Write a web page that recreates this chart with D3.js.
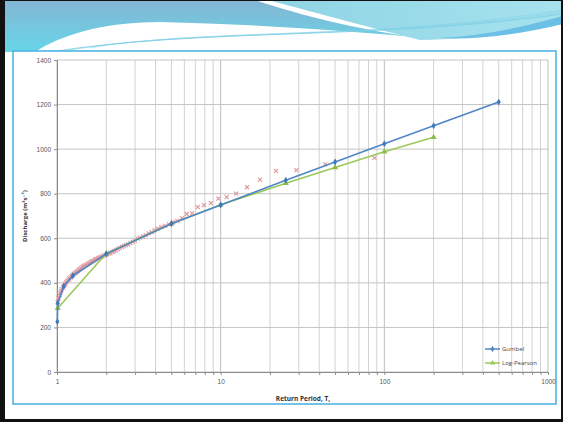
<!DOCTYPE html>
<html lang="en">
<head>
<meta charset="UTF-8">
<title>Return period chart</title>
<style>
  body { margin: 0; background: #fff; }
  svg { display: block; font-family: "Open Sans", "DejaVu Sans", sans-serif; }
</style>
</head>
<body>
<svg id="slide" width="563" height="422"></svg>
<script src="https://d3js.org/d3.v7.min.js"></script>
<script>
// Gumbel fit
const gumbelT = [1.005, 1.01, 1.1, 1.25, 2, 5, 10, 25, 50, 100, 200, 500];
const gumbelQ = [226, 308, 385, 432, 530, 665, 749, 860, 942, 1024, 1105, 1211];

// Log-Pearson fit
const lpT = [1.01, 2, 5, 10, 25, 50, 100, 200];
const lpQ = [286, 532, 665, 750, 847, 918, 988, 1053];

// observed annual maxima (plotting positions)
const obsT = [87, 43.5, 29, 21.75, 17.4, 14.5, 12.43, 10.88, 9.67, 8.7,
  7.91, 7.25, 6.69, 6.21, 5.8, 5.44, 5.12, 4.83, 4.58, 4.35,
  4.14, 3.95, 3.78, 3.63, 3.48, 3.35, 3.22, 3.11, 3.0, 2.9,
  2.81, 2.72, 2.64, 2.56, 2.49, 2.42, 2.35, 2.29, 2.23, 2.18,
  2.12, 2.07, 2.02, 1.98, 1.93, 1.89, 1.85, 1.81, 1.78, 1.74,
  1.71, 1.67, 1.64, 1.61, 1.58, 1.55, 1.53, 1.5, 1.47, 1.45,
  1.43, 1.4, 1.38, 1.36, 1.34, 1.32, 1.3, 1.28, 1.26, 1.24,
  1.23, 1.21, 1.19, 1.18, 1.16, 1.14, 1.13, 1.12, 1.1, 1.09,
  1.07, 1.06, 1.05, 1.04, 1.02, 1.01];
const obsQ = [961, 932, 906, 902, 863, 829, 800, 785, 778, 758,
  749, 740, 712, 709, 690, 678, 672, 664, 656, 650,
  643, 636, 628, 622, 614, 608, 603, 598, 590, 584,
  578, 573, 569, 565, 561, 556, 551, 546, 542, 538,
  534, 531, 528, 525, 522, 519, 516, 513, 510, 507,
  504, 500, 497, 494, 490, 486, 483, 480, 477, 474,
  470, 466, 462, 458, 454, 450, 446, 442, 438, 434,
  430, 425, 420, 415, 410, 404, 398, 392, 386, 379,
  372, 364, 355, 345, 332, 314];

const xTickLabels = [1, 10, 100, 1000];
const yTicks = [0, 200, 400, 600, 800, 1000, 1200, 1400];

const svg = d3.select("#slide");

// slide frame and header
const defs = svg.append("defs");
const g1 = defs.append("linearGradient").attr("id", "hdrL").attr("x1", 0).attr("y1", 0).attr("x2", 0).attr("y2", 1);
g1.append("stop").attr("offset", "0%").attr("stop-color", "#84b6d4");
g1.append("stop").attr("offset", "100%").attr("stop-color", "#66d6e8");
const g2 = defs.append("linearGradient").attr("id", "hdrR").attr("x1", 0).attr("y1", 0).attr("x2", 1).attr("y2", 0);
g2.append("stop").attr("offset", "0%").attr("stop-color", "#8fd4e4");
g2.append("stop").attr("offset", "100%").attr("stop-color", "#a6e2ee");

svg.append("rect").attr("width", 563).attr("height", 422).attr("fill", "#fff");
svg.append("path")
  .attr("d", "M5,1 H258 C300,15 360,30 414,37 C340,30 250,24 160,22 C100,22 60,36 35,52 H5 Z")
  .attr("fill", "url(#hdrL)");
svg.append("path")
  .attr("d", "M272,1 H563 V22 C520,30 470,40 420,40 C380,30 320,14 272,1 Z")
  .attr("fill", "url(#hdrR)");
svg.append("path")
  .attr("d", "M440,38 C480,36 520,28 563,16 V24 C520,34 480,40 440,38 Z")
  .attr("fill", "#6cbfe6");
[[50, 52, 0.9], [70, 50, 0.6], [90, 48, 0.5]].forEach(d => {
  svg.append("path")
    .attr("d", `M${d[0]},${d[1]} C200,28 380,40 563,${d[1] - 38}`)
    .attr("fill", "none").attr("stroke", "#7fcfe6").attr("stroke-width", d[2]);
});
svg.append("rect").attr("x", 0).attr("y", 0).attr("width", 5).attr("height", 422).attr("fill", "#111");
svg.append("rect").attr("x", 0).attr("y", 0).attr("width", 563).attr("height", 1).attr("fill", "#111");
svg.append("rect").attr("x", 0).attr("y", 419).attr("width", 563).attr("height", 3).attr("fill", "#111");
svg.append("rect").attr("x", 561).attr("y", 0).attr("width", 2).attr("height", 422).attr("fill", "#111");

// chart box
svg.append("rect").attr("x", 13).attr("y", 51).attr("width", 543).attr("height", 353)
  .attr("fill", "#fff").attr("stroke", "#45aee0").attr("stroke-width", 1.5);

const x = d3.scaleLog().domain([1, 1000]).range([57, 548]);
const y = d3.scaleLinear().domain([0, 1400]).range([372, 60]);

const grid = svg.append("g");
const vTicks = x.ticks();
grid.selectAll("line.v").data(vTicks).enter().append("line")
  .attr("x1", d => x(d)).attr("x2", d => x(d))
  .attr("y1", y(1400)).attr("y2", y(0))
  .attr("stroke", d => xTickLabels.includes(d) ? "#bdbdbd" : "#d2d2d2")
  .attr("stroke-width", 1);
grid.selectAll("line.h").data(yTicks).enter().append("line")
  .attr("x1", x(1)).attr("x2", x(1000))
  .attr("y1", d => y(d)).attr("y2", d => y(d))
  .attr("stroke", "#c4c4c4").attr("stroke-width", 1);

// axes
const xAxis = svg.append("g").attr("transform", `translate(0,${y(0)})`)
  .call(d3.axisBottom(x).tickValues(vTicks).tickSize(3)
    .tickFormat(d => xTickLabels.includes(d) ? d : ""));
const yAxis = svg.append("g").attr("transform", `translate(${x(1)},0)`)
  .call(d3.axisLeft(y).tickValues(yTicks).tickSize(3).tickFormat(d3.format("d")));
[xAxis, yAxis].forEach(a => {
  a.select(".domain").attr("stroke", "#8c8c8c");
  a.selectAll(".tick line").attr("stroke", "#8c8c8c");
  a.selectAll("text").attr("fill", "#555").style("font-size", "6.5px");
});
xAxis.selectAll("text").attr("dy", "0.9em");

svg.append("text").attr("x", 303).attr("y", 401).attr("text-anchor", "middle")
  .attr("font-size", 6.5).attr("font-weight", "bold").attr("fill", "#333")
  .text("Return Period, T,");
svg.append("text").attr("transform", "translate(27,216) rotate(-90)").attr("text-anchor", "middle")
  .attr("font-size", 6).attr("font-weight", "bold").attr("fill", "#333")
  .text("Discharge (m³s⁻¹)");

// observed points
const obs = obsT.map((t, i) => [t, obsQ[i]]);
const cross = svg.append("g").attr("stroke", "#e0959a").attr("stroke-width", 1.1);
obs.forEach(d => {
  const cx = x(d[0]), cy = y(d[1]);
  cross.append("path").attr("d", `M${cx - 2},${cy - 2} L${cx + 2},${cy + 2} M${cx - 2},${cy + 2} L${cx + 2},${cy - 2}`);
});

const line = d3.line().x(d => x(d[0])).y(d => y(d[1]));

// Log-Pearson
const lp = lpT.map((t, i) => [t, lpQ[i]]);
svg.append("path").datum(lp).attr("d", line).attr("fill", "none")
  .attr("stroke", "#9bc95a").attr("stroke-width", 1.6);
svg.append("g").selectAll("path").data(lp).enter().append("path")
  .attr("d", d3.symbol().type(d3.symbolTriangle).size(16))
  .attr("transform", d => `translate(${x(d[0])},${y(d[1])})`)
  .attr("fill", "#8dbb4c");

// Gumbel
const gu = gumbelT.map((t, i) => [t, gumbelQ[i]]);
svg.append("path").datum(gu).attr("d", line).attr("fill", "none")
  .attr("stroke", "#4f86c6").attr("stroke-width", 1.6);
svg.append("g").selectAll("path").data(gu).enter().append("path")
  .attr("d", d3.symbol().type(d3.symbolDiamond).size(14))
  .attr("transform", d => `translate(${x(d[0])},${y(d[1])})`)
  .attr("fill", "#3f77bd");

// legend
const legend = [
  { name: "Gumbel", color: "#4f86c6", sym: d3.symbolDiamond, y: 349 },
  { name: "Log-Pearson", color: "#9bc95a", sym: d3.symbolTriangle, y: 363 }
];
legend.forEach(l => {
  svg.append("line").attr("x1", 485).attr("x2", 500).attr("y1", l.y).attr("y2", l.y)
    .attr("stroke", l.color).attr("stroke-width", 1.5);
  svg.append("path").attr("d", d3.symbol().type(l.sym).size(12))
    .attr("transform", `translate(492.5,${l.y})`).attr("fill", l.color);
  svg.append("text").attr("x", 502).attr("y", l.y + 2).attr("font-size", 6)
    .attr("fill", "#444").text(l.name);
});
</script>
</body>
</html>
